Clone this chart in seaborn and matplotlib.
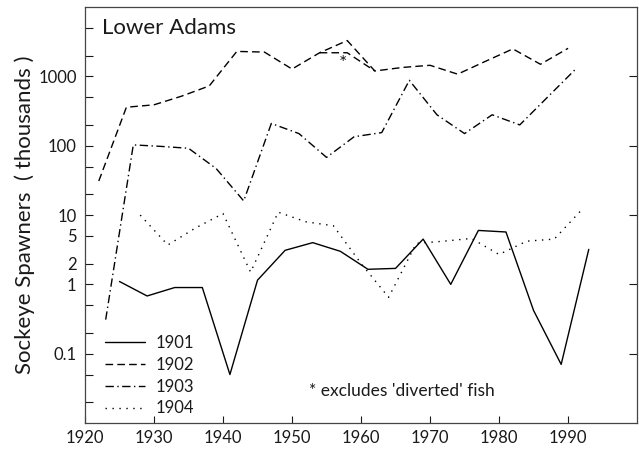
import matplotlib
matplotlib.use("Agg")
import matplotlib.pyplot as plt
from matplotlib.ticker import FixedLocator, FixedFormatter
import seaborn as sns
import pandas as pd

# ---- data ----
years_1901 = [1925, 1929, 1933, 1937, 1941, 1945, 1949, 1953, 1957, 1961, 1965, 1969, 1973, 1977, 1981, 1985, 1989, 1993]
vals_1901 = [1.1, 0.68, 0.9, 0.9, 0.05, 1.15, 3.1, 4.0, 3.0, 1.65, 1.7, 4.5, 1.0, 6.0, 5.7, 0.42, 0.07, 3.2]

years_1902 = [1922, 1926, 1930, 1934, 1938, 1942, 1946, 1950, 1954, 1958, 1962, 1966, 1970, 1974, 1978, 1982, 1986, 1990]
vals_1902 = [31, 360, 390, 520, 730, 2300, 2250, 1280, 2200, 3300, 1200, 1350, 1450, 1080, 1650, 2500, 1500, 2550]

# 1958 value excluding 'diverted' fish
alt_years_1902 = [1954, 1958, 1962]
alt_vals_1902 = [2200, 2200, 1200]

years_1903 = [1923, 1927, 1931, 1935, 1939, 1943, 1947, 1951, 1955, 1959, 1963, 1967, 1971, 1975, 1979, 1983, 1987, 1991]
vals_1903 = [0.31, 103, 98, 92, 47, 16, 210, 150, 68, 135, 155, 880, 280, 150, 280, 200, 500, 1250]

years_1904 = [1928, 1932, 1936, 1940, 1944, 1948, 1952, 1956, 1960, 1964, 1968, 1972, 1976, 1980, 1984, 1988, 1992]
vals_1904 = [10, 3.7, 6.5, 10.5, 1.5, 11, 8, 7, 2.0, 0.65, 3.9, 4.2, 4.6, 2.7, 4.2, 4.5, 12]

series_names = ["1901", "1902", "1903", "1904"]
y_major = [0.1, 1, 10, 100, 1000]
y_major_labels = ["0.1", "1", "10", "100", "1000"]
y_minor = [0.02, 0.05, 0.2, 0.5, 2, 5, 20, 50, 200, 500, 2000, 5000]
y_minor_labels = ["", "", "", "", "2", "5", "", "", "", "", "", ""]
x_ticks = [1920, 1930, 1940, 1950, 1960, 1970, 1980, 1990]

frames = []
for name, yrs, vals in zip(series_names,
                           [years_1901, years_1902, years_1903, years_1904],
                           [vals_1901, vals_1902, vals_1903, vals_1904]):
    frames.append(pd.DataFrame({"year": yrs, "value": vals, "cohort": name}))
df = pd.concat(frames, ignore_index=True)
alt_df = pd.DataFrame({"year": alt_years_1902, "value": alt_vals_1902})

sns.set_theme(style="ticks")
plt.rcParams["font.family"] = ["Lato", "DejaVu Sans"]
plt.rcParams["font.weight"] = "normal"

TXT = "#1a1a1a"

fig = plt.figure(figsize=(6.39, 4.49), dpi=100)
ax = fig.add_axes([0.133, 0.058, 0.864, 0.926])

dash_map = {"1901": "", "1902": (5.5, 3), "1903": (6, 2.5, 1, 2.5), "1904": (1, 4)}
sns.lineplot(data=df, x="year", y="value", style="cohort", dashes=dash_map,
             color="black", linewidth=1.0, ax=ax, legend=True, estimator=None,
             sort=False)
sns.lineplot(data=alt_df, x="year", y="value", color="black", linewidth=1.0,
             ax=ax, legend=False, estimator=None, sort=False, dashes=False)
ax.lines[-1].set_dashes((5.5, 3))

ax.set_yscale("log")
ax.set_xlim(1920, 2000)
ax.set_ylim(0.01, 10000)

ax.yaxis.set_major_locator(FixedLocator(y_major))
ax.yaxis.set_major_formatter(FixedFormatter(y_major_labels))
ax.yaxis.set_minor_locator(FixedLocator(y_minor))
ax.yaxis.set_minor_formatter(FixedFormatter(y_minor_labels))
ax.set_xticks(x_ticks)
ax.set_xticklabels([str(t) for t in x_ticks])

ax.tick_params(axis="y", which="major", direction="in", length=6, width=0.8,
               right=True, left=True, labelsize=12, pad=6, colors=TXT)
ax.tick_params(axis="y", which="minor", direction="in", length=6, width=0.8,
               right=False, left=True, labelsize=12, pad=6, colors=TXT)
ax.tick_params(axis="x", which="major", direction="in", length=5, width=0.8,
               top=False, labelsize=12, pad=5, colors=TXT)
for lab in ax.get_xticklabels() + ax.get_yticklabels() + ax.get_yticklabels(minor=True):
    lab.set_fontweight("normal")

for s in ax.spines.values():
    s.set_visible(True)
    s.set_color("#444444")
    s.set_linewidth(0.9)

ax.set_xlabel("")
ax.set_ylabel("Sockeye Spawners  ( thousands )", fontsize=16, color=TXT,
              labelpad=2, fontweight="normal")

ax.text(0.03, 0.975, "Lower Adams", transform=ax.transAxes, fontsize=16,
        ha="left", va="top", color=TXT, fontweight="normal")
ax.text(1957.4, 1550, "*", fontsize=14, ha="center", va="center", color=TXT,
        fontweight="normal")
ax.text(1952.5, 0.029, "* excludes 'diverted' fish", fontsize=12.5,
        ha="left", va="center", color=TXT, fontweight="normal")

leg = ax.legend(loc="upper left", bbox_to_anchor=(0.016, 0.24), frameon=False,
                fontsize=12, handlelength=2.4, handletextpad=0.6,
                labelspacing=0.35, borderaxespad=0.3, title=None)
for line in leg.get_lines():
    line.set_linewidth(1.0)
for t in leg.get_texts():
    t.set_color(TXT)
    t.set_fontweight("normal")

fig.savefig("out.png", dpi=100)
